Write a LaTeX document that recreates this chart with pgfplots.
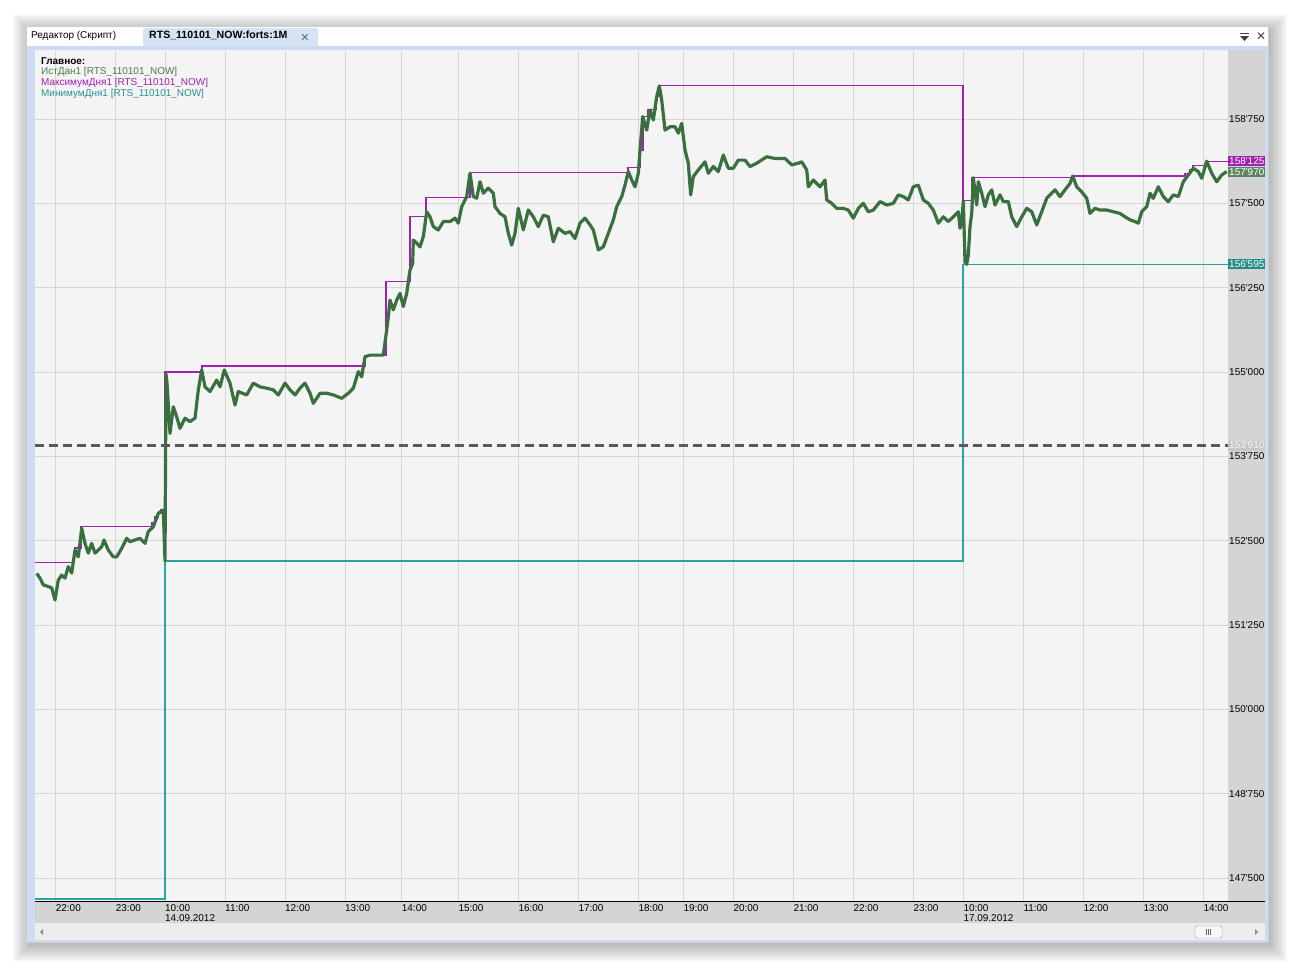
\documentclass[border=0pt]{standalone}
\usepackage{fontspec}
\setmainfont{Liberation Sans}[Ligatures=TeXOff]
\newfontfamily\sym{DejaVu Sans}
\usepackage{pgfplots}
\pgfplotsset{compat=1.18}

\definecolor{plotbg}{HTML}{F4F4F4}
\definecolor{strip}{HTML}{D4D4D4}
\definecolor{gridc}{HTML}{D6D6D6}
\definecolor{frameblue}{HTML}{CCDCF1}
\definecolor{tabblue}{HTML}{D5E3F3}
\definecolor{price}{HTML}{3A7040}
\definecolor{pricetxt}{HTML}{4C7A4C}
\definecolor{boxgreen}{HTML}{5E8560}
\definecolor{dmax}{HTML}{A020B0}
\definecolor{dmin}{HTML}{2AA3A3}

\begin{document}
\begin{tikzpicture}[x=1bp,y=1bp,font=\fontsize{10}{10}\selectfont]
\path[use as bounding box] (0,0) rectangle (1295,-969);
\fill[white] (0,0) rectangle (1295,-969);
% window shadow
\foreach \k in {16,14,...,0}
  \fill[black,opacity=0.03] (29-\k,-30+\k) rectangle (1271+\k,-946-\k);
% window
\fill[white] (26,-26) rectangle (1268,-942);
\draw[black!20] (26,-26) rectangle (1268,-942);
\fill[frameblue] (27,-46) rectangle (1268,-942);
\fill[plotbg] (35,-50) rectangle (1228,-901);
\fill[strip] (1228,-50) rectangle (1265,-901);
\fill[strip] (35,-901) rectangle (1265,-923);
\fill[black!7] (35,-923) rectangle (1265,-940);

% tabs
\fill[tabblue, rounded corners=2bp] (143,-46) -- (143,-28) -- (318,-28) -- (318,-46);
\node[anchor=west, inner sep=0pt] at (31,-35.5) {Редактор (Скрипт)};
\node[anchor=west, inner sep=0pt, font=\bfseries\fontsize{10.6}{10.6}\selectfont] at (149,-35.5) {RTS\_110101\_NOW:forts:1M};
\node[text=black!60, font=\sym\fontsize{11}{11}\selectfont] at (305,-38) {✕};
\fill[black!75] (1240,-33) rectangle (1249,-34.3);
\fill[black!75] (1240,-36) -- (1249,-36) -- (1244.5,-41) -- cycle;
\node[text=black!75, font=\sym\fontsize{12}{12}\selectfont] at (1261,-36.5) {✕};

\begin{axis}[
  at={(35bp,-901bp)}, anchor=south west,
  scale only axis, width=1193bp, height=850.5bp,
  xmin=35, xmax=1228, ymin=147159, ymax=159765,
  scaled x ticks=false, scaled y ticks=false,
  axis line style={draw=none}, major tick length=0pt,
  grid=major, grid style={gridc, line width=0.8bp},
  xtick={55.7,115.7,165,225,285,345,401.7,458.3,518.3,578.3,638.3,683.3,733.3,793.3,853.3,913.3,963.3,1023.3,1083.3,1143.3,1203.3},
  xticklabels={22:00,23:00,{10:00\\14.09.2012},11:00,12:00,13:00,14:00,15:00,16:00,17:00,18:00,19:00,20:00,21:00,22:00,23:00,{10:00\\17.09.2012},11:00,12:00,13:00,14:00},
  ytick={147500,148750,150000,151250,152500,153750,155000,156250,157500,158750},
  yticklabels={147'500,148'750,150'000,151'250,152'500,153'750,155'000,156'250,157'500,158'750},
  yticklabel pos=right,
  ticklabel style={font=\fontsize{10}{10}\selectfont, inner sep=0pt},
  xticklabel style={anchor=north west, align=left, yshift=-3.5bp},
  yticklabel style={anchor=west, xshift=1bp},
  clip=false,
]
% daily minimum
\addplot[dmin, line width=1.2bp, const plot, mark=none] coordinates {
(35,147190) (165,152200) (963,156595) (1228,156595)
};
% daily maximum
\addplot[dmax, line width=1.2bp, const plot, mark=none] coordinates {
(35,152175) (74.5,152390) (81,152715) (152,152775) (155,152850) (158,152905) (161,152955)
(165,155000) (202,155090) (365,155245) (386,156345) (410,157300) (426,157590) (470,157960)
(628,158030) (640,158290) (643,158785) (648,158885) (656,159080) (659,159245)
(963,157540) (972,157885) (1073,157905) (1185,157945) (1190,157995) (1193,158055)
(1206,158125) (1228,158125)
};
% price
\addplot[price, line width=3.2bp, line join=round, mark=none] coordinates {
(36.7,152015) (40,151945) (43.3,151845) (48.3,151820) (51.7,151800) (55,151620) (58.3,151915)
(61.7,151990) (65,151945) (68.3,152115) (71.7,152020) (75,152360) (78.3,152260) (81.7,152685)
(85,152460) (88.3,152315) (91.7,152460) (95,152315) (98.3,152360) (101.7,152410) (104,152510)
(108.3,152360) (113.3,152260) (116.7,152260) (121.7,152385) (126.7,152535) (130,152485)
(135,152510) (140,152535) (145,152460) (148.3,152635) (153.3,152705) (158.3,152905)
(163.3,152955) (165,152200) (166,154970) (167,154835) (170,154090) (173.3,154485)
(176.7,154335) (180,154165) (185,154315) (190,154265) (195,154315) (198.3,154735)
(201.7,155030) (205,154780) (210,154710) (216.7,154880) (220,154780) (224.3,155030)
(230,154835) (235,154510) (238.3,154710) (246.7,154660) (253.3,154835) (260,154780)
(266.7,154760) (273.3,154735) (278.3,154660) (285,154835) (290,154735) (295,154660)
(300,154760) (305,154835) (310,154685) (313.3,154535) (320,154685) (326.7,154685)
(333.3,154660) (341.7,154610) (348.3,154685) (353.3,154760) (358.3,155005) (361.7,154930)
(365,155225) (370,155250) (383.3,155250) (386.7,155625) (388.3,155820) (390,156065)
(393.3,155920) (396.7,156065) (400,156165) (403.3,155970) (406.7,156165) (410,156510)
(412.7,156610) (413.3,156955) (416.7,156910) (420,156855) (423.3,157005) (426.7,157375)
(430,157300) (433.3,157155) (438.3,157105) (443.3,157230) (450,157230) (455,157280)
(458.3,157205) (461.7,157450) (466.7,157600) (470,157945) (473.3,157600) (476.7,157575)
(480,157820) (483.3,157650) (488.3,157725) (493.3,157650) (495,157450) (500,157350)
(505,157300) (508.3,157055) (511.7,156880) (515,157055) (518.3,157425) (523.3,157105)
(528.3,157400) (533.3,157300) (538.3,157155) (543.3,157325) (548.3,157300) (553.3,156930)
(558.3,157130) (565,157055) (570,157080) (575,156980) (580,157205) (585,157280)
(590,157180) (593.3,157105) (598.3,156810) (603.3,156855) (608.3,157055) (613.3,157255)
(616.7,157450) (621.7,157600) (625,157770) (628.3,157970) (631.7,157845) (635,157745)
(638.3,157945) (640,158290) (642.7,158785) (646.7,158585) (650,158885) (653.3,158735)
(656.7,159080) (659.3,159240) (661.7,159030) (665,158585) (670,158635) (675,158635)
(678.3,158540) (681.7,158685) (685,158290) (688.3,158095) (690.7,157625) (693.3,157895)
(698.3,157995) (705,158115) (708.3,157945) (713.3,158045) (718.3,157970) (723.3,158215)
(728.3,158020) (733.3,158020) (738.3,158140) (745,158140) (750,158045) (756.7,158095)
(766.7,158190) (775,158165) (785,158165) (791.7,158070) (798.3,158095) (801.7,158115)
(806.7,157995) (808.3,157745) (813.3,157845) (820,157745) (825,157845) (826.7,157550)
(831.7,157500) (836.7,157425) (843.3,157425) (848.3,157400) (853.3,157280) (858.3,157425)
(863.3,157500) (868.3,157375) (873.3,157400) (880,157525) (886.7,157475) (893.3,157500)
(898.3,157625) (903.3,157600) (908.3,157550) (913.3,157745) (918.3,157770) (923.3,157550)
(928.3,157500) (933.3,157400) (938.3,157205) (943.3,157300) (948.3,157230) (953.3,157300)
(958.3,157375) (960,157130) (962,157285) (963.3,157535) (965,156630) (966.7,156595)
(968.3,156735) (970,157155) (971.7,157350) (973.3,157880) (976.7,157475) (978.3,157820)
(981.7,157650) (985,157450) (988.3,157625) (991.7,157700) (995,157475) (1000,157625)
(1003.3,157525) (1008.3,157525) (1011.7,157300) (1016.7,157155) (1021.7,157300)
(1026.7,157425) (1031.7,157375) (1036.7,157180) (1041.7,157375) (1046.7,157575)
(1051.7,157650) (1055,157700) (1060,157600) (1065,157700) (1070,157795) (1072.7,157905)
(1076.7,157745) (1081.7,157670) (1086.7,157575) (1090,157350) (1095,157425) (1100,157400)
(1106.7,157400) (1113.3,157375) (1120,157350) (1125,157300) (1130,157255) (1135,157230)
(1138.3,157205) (1141.7,157375) (1146.7,157450) (1150,157650) (1153.3,157575)
(1158.3,157745) (1163.3,157600) (1168.3,157525) (1173.3,157625) (1178.3,157600)
(1183.3,157820) (1188.3,157920) (1193.3,158020) (1198.3,157970) (1201.7,157870)
(1206.7,158125) (1211.7,157945) (1216.7,157820) (1221.7,157920) (1226.7,157970)
};
% reference level
\addplot[black!65, line width=2.6bp, dash pattern=on 9bp off 5bp, mark=none] coordinates {
(35,153910) (1228,153910)
};
\node[anchor=west, fill=dmax, text=white, inner xsep=1bp, inner ysep=0.5bp, minimum height=10bp, minimum width=37bp] at (axis cs:1228,158125) {158'125};
\node[anchor=west, fill=boxgreen, text=white, inner xsep=1bp, inner ysep=0.5bp, minimum height=10bp, minimum width=37bp] at (axis cs:1228,157970) {157'970};
\node[anchor=west, fill=dmin!85!black, text=white, inner xsep=1bp, inner ysep=0.5bp, minimum height=10bp, minimum width=37bp] at (axis cs:1228,156595) {156'595};
\node[anchor=west, fill=black!22, text=black!4, inner xsep=1bp, inner ysep=0.5bp, minimum height=10bp, minimum width=37bp] at (axis cs:1228,153910) {153'910};
\end{axis}

\draw[black, line width=1.2bp] (35,-901.5) -- (1265,-901.5);

% legend
\node[anchor=west, inner sep=0pt, font=\bfseries\fontsize{10}{10}\selectfont] at (41,-61) {Главное:};
\node[anchor=west, inner sep=0pt, text=pricetxt] at (41,-72) {ИстДан1 [RTS\_110101\_NOW]};
\node[anchor=west, inner sep=0pt, text=dmax] at (41,-83) {МаксимумДня1 [RTS\_110101\_NOW]};
\node[anchor=west, inner sep=0pt, text=dmin!90!black] at (41,-94) {МинимумДня1 [RTS\_110101\_NOW]};

% scroll bar
\fill[black!45] (43,-929) -- (43,-935) -- (40,-932) -- cycle;
\fill[black!45] (1255,-929) -- (1255,-935) -- (1258,-932) -- cycle;
\draw[black!40, fill=black!3, rounded corners=1.5bp] (1195,-926) rectangle (1222,-938);
\foreach \g in {1206,1208,1210} \draw[black!60] (\g,-929) -- (\g,-935);
\end{tikzpicture}
\end{document}
